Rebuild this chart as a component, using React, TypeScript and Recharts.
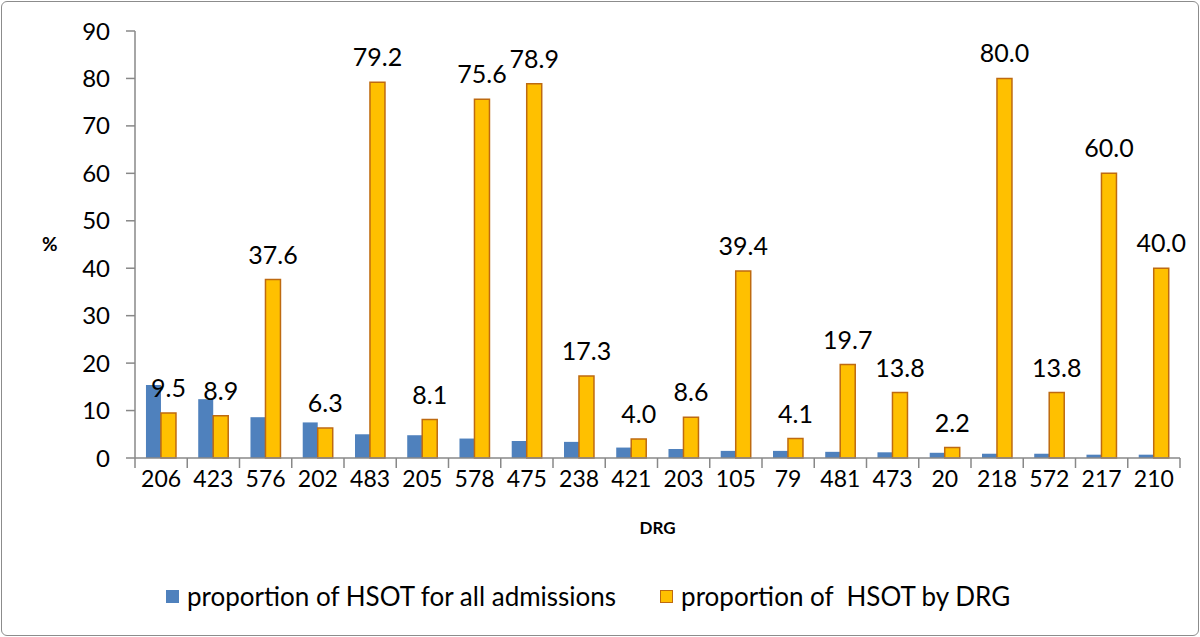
import { BarChart, Bar, XAxis, YAxis, Legend, LabelList, Label } from 'recharts'

const drgCodes = ['206', '423', '576', '202', '483', '205', '578', '475', '238', '421', '203', '105', '79', '481', '473', '20', '218', '572', '217', '210']
const allAdmissions = [15.4, 12.4, 8.6, 7.5, 5.0, 4.8, 4.1, 3.6, 3.4, 2.2, 1.9, 1.5, 1.5, 1.3, 1.2, 1.1, 0.9, 0.9, 0.7, 0.7]
const byDrg = [9.5, 8.9, 37.6, 6.3, 79.2, 8.1, 75.6, 78.9, 17.3, 4.0, 8.6, 39.4, 4.1, 19.7, 13.8, 2.2, 80.0, 13.8, 60.0, 40.0]
const yTicks = [0, 10, 20, 30, 40, 50, 60, 70, 80, 90]

const FONT = 'Lato, "Open Sans", sans-serif'
const BLUE = '#4F81BD'
const ORANGE = '#FFC000'
const ORANGE_EDGE = '#BE6A10'
const AXIS = '#888888'

const chartData = drgCodes.map((drg, i) => ({
  drg,
  all: allAdmissions[i],
  byDrg: byDrg[i],
}))

// category ticks sit on the boundaries between groups, like Excel
function DrgTick(props: any) {
  const { x, y, payload, index } = props
  const band = (1180 - 135) / drgCodes.length
  const left = x - band / 2
  return (
    <g>
      <line x1={left} y1={y - 8} x2={left} y2={y + 2} stroke={AXIS} strokeWidth={1.5} />
      {index === drgCodes.length - 1 && (
        <line x1={left + band} y1={y - 8} x2={left + band} y2={y + 2} stroke={AXIS} strokeWidth={1.5} />
      )}
      <text x={x} y={y + 21} textAnchor="middle" fontSize={23} fill="#000" fontFamily={FONT}>
        {payload.value}
      </text>
    </g>
  )
}

function LegendContent() {
  const item = (color: string, edge: string, text: string, gap: number) => (
    <div style={{ display: 'flex', alignItems: 'center', marginRight: gap }}>
      <span style={{ width: 13, height: 13, background: color, border: `1.5px solid ${edge}`, boxSizing: 'border-box', marginRight: 8 }} />
      <span style={{ fontSize: 26, fontFamily: FONT, color: '#000', whiteSpace: 'pre' }}>{text}</span>
    </div>
  )
  return (
    <div style={{ display: 'flex', justifyContent: 'flex-start', paddingTop: 36, paddingLeft: 166 }}>
      {item(BLUE, BLUE, 'proportion of HSOT for all admissions', 44)}
      {item(ORANGE, ORANGE_EDGE, 'proportion of  HSOT by DRG', 0)}
    </div>
  )
}

export default function App() {
  return (
    <div style={{ position: 'absolute', left: 0, top: 0, width: 1200, height: 637, background: '#fff' }}>
      <div style={{ position: 'absolute', left: 1, top: 1, width: 1196, height: 633, border: '1px solid #8c8c8c', borderRadius: 6, pointerEvents: 'none' }} />
      <BarChart
        width={1200}
        height={637}
        data={chartData}
        margin={{ top: 31, right: 20, left: 0, bottom: 8 }}
        barCategoryGap="21%"
        barGap={0}
      >
        <XAxis
          dataKey="drg"
          height={86}
          axisLine={{ stroke: AXIS, strokeWidth: 1.5 }}
          tickLine={false}
          tick={<DrgTick />}
          interval={0}
        >
          <Label value="DRG" position="insideTop" offset={64} style={{ fontSize: 17, fontWeight: 'bold', fontFamily: FONT, fill: '#000' }} />
        </XAxis>
        <YAxis
          width={135}
          domain={[0, 90]}
          ticks={yTicks}
          interval={0}
          axisLine={{ stroke: AXIS, strokeWidth: 1.5 }}
          tickLine={{ stroke: AXIS, strokeWidth: 1.5 }}
          tickSize={9}
          tickMargin={16}
          tick={{ fontSize: 24, fill: '#000', fontFamily: FONT }}
        >
          <Label value="%" position="insideLeft" offset={42} style={{ fontSize: 19, fontWeight: 'bold', fontFamily: FONT, fill: '#000' }} />
        </YAxis>
        <Legend verticalAlign="bottom" content={<LegendContent />} wrapperStyle={{ height: 85 }} />
        <Bar dataKey="all" name="proportion of HSOT for all admissions" fill={BLUE} isAnimationActive={false} />
        <Bar dataKey="byDrg" name="proportion of  HSOT by DRG" fill={ORANGE} stroke={ORANGE_EDGE} strokeWidth={1.5} isAnimationActive={false}>
          <LabelList
            dataKey="byDrg"
            position="top"
            offset={16}
            formatter={(v: any) => Number(v).toFixed(1)}
            style={{ fontSize: 25, fill: '#000', fontFamily: FONT }}
          />
        </Bar>
      </BarChart>
    </div>
  )
}
